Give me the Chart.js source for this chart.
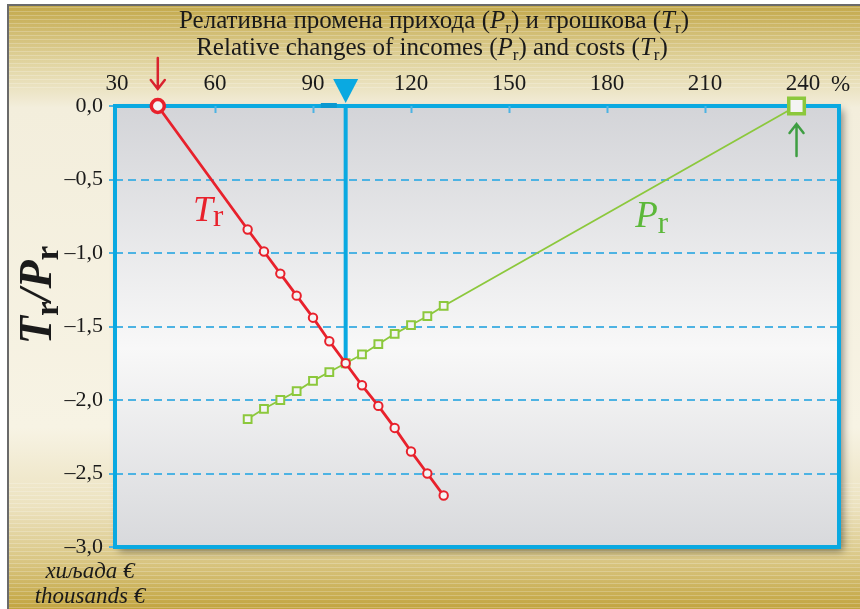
<!DOCTYPE html>
<html>
<head>
<meta charset="utf-8">
<script src="https://cdn.jsdelivr.net/npm/chart.js@4.4.1/dist/chart.umd.min.js"></script>
<style>
  html, body { margin: 0; padding: 0; background: #fff; }
  #wrap { width: 860px; height: 609px; }
</style>
</head>
<body>
<div id="wrap"><canvas id="chart" width="860" height="609"></canvas></div>
<script>
// axis ticks
const xTicks = [30, 60, 90, 120, 150, 180, 210, 240];
const yTicks = [0, -0.5, -1, -1.5, -2, -2.5, -3];

// relative change (%) and the two series
const changes = [70, 75, 80, 85, 90, 95, 100, 105, 110, 115, 120, 125, 130];
const costs = [-0.84, -0.99, -1.14, -1.29, -1.44, -1.6, -1.75, -1.9, -2.04, -2.19, -2.35, -2.5, -2.65];
const incomes = [-2.13, -2.06, -2.0, -1.94, -1.87, -1.81, -1.75, -1.69, -1.62, -1.55, -1.49, -1.43, -1.36];
const costStart = [42.5, 0];
const incomeEnd = [238, 0];
const breakEven = [100, -1.75];

const red = "#e8212c";
const green = "#8cc83c";
const blue = "#0aa9e1";
const gridBlue = "#4db3e3";
const serif = '"Liberation Serif", "Times New Roman", serif';

// draw a line of text made of several styled parts
const drawParts = (ctx, parts, x, y, align) => {
  let total = 0;
  parts.forEach((p) => {
    ctx.font = p.font;
    p.w = ctx.measureText(p.t).width;
    total += p.w;
  });
  let cx = align === "center" ? x - total / 2 : x;
  ctx.textAlign = "left";
  ctx.textBaseline = "alphabetic";
  parts.forEach((p) => {
    ctx.font = p.font;
    ctx.fillText(p.t, cx, y + (p.dy || 0));
    cx += p.w;
  });
};

const arrow = (ctx, x, y1, y2, color, width) => {
  const dir = y2 > y1 ? 1 : -1;
  ctx.save();
  ctx.strokeStyle = color;
  ctx.lineWidth = width;
  ctx.lineCap = "round";
  ctx.beginPath();
  ctx.moveTo(x, y1);
  ctx.lineTo(x, y2);
  ctx.moveTo(x - 7, y2 - dir * 9);
  ctx.lineTo(x, y2);
  ctx.lineTo(x + 7, y2 - dir * 9);
  ctx.stroke();
  ctx.restore();
};

const decor = {
  id: "decor",
  beforeDraw(chart) {
    const { ctx, chartArea: a, width: W, height: H } = chart;
    ctx.save();
    ctx.fillStyle = "#fff";
    ctx.fillRect(0, 0, W, H);

    // parchment background
    const g = ctx.createLinearGradient(0, 5, 0, H);
    g.addColorStop(0, "#c3a84a");
    g.addColorStop(0.1, "#e2d6a4");
    g.addColorStop(0.17, "#f3eedc");
    g.addColorStop(0.7, "#f7f3e4");
    g.addColorStop(0.83, "#ece2bf");
    g.addColorStop(0.92, "#d9c683");
    g.addColorStop(1, "#c2a43f");
    ctx.fillStyle = g;
    ctx.fillRect(8, 5, W - 8, H - 5);
    ctx.fillStyle = "rgba(255,255,255,0.22)";
    for (let y = 7; y < H; y += 4) {
      if (y < 90 || y > 480) ctx.fillRect(8, y, W - 8, 1);
    }
    ctx.strokeStyle = "#6a6a6a";
    ctx.lineWidth = 2;
    ctx.beginPath();
    ctx.moveTo(8, H);
    ctx.lineTo(8, 5);
    ctx.lineTo(W, 5);
    ctx.stroke();

    // plot area with shadow
    ctx.shadowColor = "rgba(0,0,0,0.45)";
    ctx.shadowBlur = 8;
    ctx.shadowOffsetX = 4;
    ctx.shadowOffsetY = 4;
    const pg = ctx.createLinearGradient(0, a.top, 0, a.bottom);
    pg.addColorStop(0, "#d3d4d8");
    pg.addColorStop(0.55, "#f8f8f8");
    pg.addColorStop(1, "#d8d9dc");
    ctx.fillStyle = pg;
    ctx.fillRect(a.left, a.top, a.width, a.height);
    ctx.restore();
  },
  beforeDatasetsDraw(chart) {
    const { ctx, chartArea: a, scales } = chart;
    const xs = scales.x;
    ctx.save();
    ctx.strokeStyle = blue;
    ctx.lineWidth = 4;
    ctx.strokeRect(a.left, a.top, a.width, a.height);
    // small ticks into the plot from the top border
    ctx.lineWidth = 2;
    ctx.strokeStyle = gridBlue;
    xTicks.slice(1).forEach((v) => {
      const px = Math.round(xs.getPixelForValue(v)) + 0.5;
      ctx.beginPath();
      ctx.moveTo(px, a.top);
      ctx.lineTo(px, a.top + 7);
      ctx.stroke();
    });
    ctx.fillStyle = "#0a98d0";
    const d1 = xs.getPixelForValue(92.4);
    const d2 = xs.getPixelForValue(97.3);
    ctx.fillRect(d1, a.top - 3, d2 - d1, 5);
    ctx.restore();
  },
  afterDraw(chart) {
    const { ctx, chartArea: a, scales } = chart;
    const xs = scales.x;
    const ys = scales.y;
    ctx.save();
    ctx.fillStyle = "#1a1a1a";

    // title
    const f = "25px " + serif;
    const fi = "italic 25px " + serif;
    const fs = "17px " + serif;
    drawParts(ctx, [
      { t: "Релативна промена прихода (", font: f },
      { t: "P", font: fi },
      { t: "r", font: fs, dy: 5 },
      { t: ") и трошкова (", font: f },
      { t: "T", font: fi },
      { t: "r", font: fs, dy: 5 },
      { t: ")", font: f },
    ], 434, 28, "center");
    drawParts(ctx, [
      { t: "Relative changes of incomes (", font: f },
      { t: "P", font: fi },
      { t: "r", font: fs, dy: 5 },
      { t: ") and costs (", font: f },
      { t: "T", font: fi },
      { t: "r", font: fs, dy: 5 },
      { t: ")", font: f },
    ], 432, 55, "center");

    // percent sign after last tick
    ctx.font = "23px " + serif;
    ctx.textAlign = "left";
    ctx.textBaseline = "middle";
    ctx.fillText("%", xs.getPixelForValue(240) + 28, 85);

    // y axis title
    ctx.save();
    ctx.translate(51, 295);
    ctx.rotate(-Math.PI / 2);
    const bi = "bold italic 46px " + serif;
    const bs = "bold 33px " + serif;
    drawParts(ctx, [
      { t: "T", font: bi },
      { t: "r", font: bs, dy: 7 },
      { t: "/", font: bi },
      { t: "P", font: bi },
      { t: "r", font: bs, dy: 7 },
    ], 0, 0, "center");
    ctx.restore();

    // units
    ctx.font = "italic 23px " + serif;
    ctx.textAlign = "center";
    ctx.textBaseline = "alphabetic";
    ctx.fillText("хиљада €", 90, 578);
    ctx.fillText("thousands €", 90, 603);

    // series labels
    ctx.fillStyle = red;
    drawParts(ctx, [
      { t: "T", font: "italic 36px " + serif },
      { t: "r", font: "31px " + serif, dy: 5 },
    ], xs.getPixelForValue(53.3), ys.getPixelForValue(-0.78), "left");
    ctx.fillStyle = "#5cb83a";
    drawParts(ctx, [
      { t: "P", font: "italic 37px " + serif },
      { t: "r", font: "31px " + serif, dy: 6 },
    ], xs.getPixelForValue(188.6), ys.getPixelForValue(-0.82), "left");

    // break-even marker on top axis
    const bx = xs.getPixelForValue(breakEven[0]);
    ctx.fillStyle = blue;
    ctx.beginPath();
    ctx.moveTo(bx - 12.5, a.top - 27);
    ctx.lineTo(bx + 12.5, a.top - 27);
    ctx.lineTo(bx, a.top - 3);
    ctx.closePath();
    ctx.fill();

    // arrows pointing at the end points
    const rx = xs.getPixelForValue(costStart[0]);
    arrow(ctx, rx, a.top - 48, a.top - 17, "#d9232e", 2.5);
    const gx = xs.getPixelForValue(incomeEnd[0]);
    arrow(ctx, gx, a.top + 50, a.top + 18, "#3e9e42", 2.5);
    ctx.restore();
  },
};

const ctx = document.getElementById("chart").getContext("2d");

new Chart(ctx, {
  type: "line",
  data: {
    datasets: [
      {
        label: "Tr",
        data: [{ x: costStart[0], y: costStart[1] }].concat(
          changes.map((x, i) => ({ x: x, y: costs[i] }))
        ),
        borderColor: red,
        borderWidth: 2.8,
        pointStyle: "circle",
        pointRadius: (c) => (c.dataIndex === 0 ? 6.5 : 4.2),
        pointBorderWidth: (c) => (c.dataIndex === 0 ? 3.5 : 2),
        pointBorderColor: red,
        pointBackgroundColor: "#f4f4f4",
        clip: false,
        order: 1,
      },
      {
        label: "Pr",
        data: changes
          .map((x, i) => ({ x: x, y: incomes[i] }))
          .concat([{ x: incomeEnd[0], y: incomeEnd[1] }]),
        borderColor: green,
        borderWidth: 1.8,
        pointStyle: "rect",
        pointRadius: (c) => (c.dataIndex === changes.length ? 11 : 5.5),
        pointBorderWidth: (c) => (c.dataIndex === changes.length ? 3.5 : 2),
        pointBorderColor: green,
        pointBackgroundColor: "#f4f4f4",
        clip: false,
        order: 2,
      },
      {
        label: "break-even",
        data: [
          { x: breakEven[0], y: 0 },
          { x: breakEven[0], y: breakEven[1] },
        ],
        borderColor: blue,
        borderWidth: 4,
        pointRadius: 0,
        order: 3,
      },
    ],
  },
  options: {
    responsive: false,
    animation: false,
    layout: { padding: { left: 0, top: 0, right: 21, bottom: 62 } },
    plugins: {
      legend: { display: false },
      tooltip: { enabled: false },
    },
    scales: {
      x: {
        type: "linear",
        position: "top",
        min: 29.4,
        max: 251,
        afterBuildTicks: (s) => {
          s.ticks = xTicks.map((v) => ({ value: v }));
        },
        afterFit: (s) => {
          s.height = 106;
        },
        grid: { display: false },
        border: { display: false },
        ticks: {
          font: { family: serif, size: 23 },
          color: "#1a1a1a",
          padding: 0,
          maxRotation: 0,
          autoSkip: false,
          callback: (v) => String(v),
        },
      },
      y: {
        type: "linear",
        min: -3,
        max: 0,
        afterBuildTicks: (s) => {
          s.ticks = yTicks.map((v) => ({ value: v }));
        },
        afterFit: (s) => {
          s.width = 115;
        },
        grid: {
          color: (c) =>
            c.tick && (c.tick.value === 0 || c.tick.value === -3)
              ? "rgba(0,0,0,0)"
              : gridBlue,
          lineWidth: 2,
          tickColor: gridBlue,
          tickLength: 6,
          tickWidth: 2,
        },
        border: { display: false, dash: [8, 5] },
        ticks: {
          font: { family: serif, size: 22 },
          color: "#1a1a1a",
          padding: 6,
          callback: (v) => v.toFixed(1).replace(".", ",").replace("-", "–"),
        },
      },
    },
  },
  plugins: [decor],
});
</script>
</body>
</html>
